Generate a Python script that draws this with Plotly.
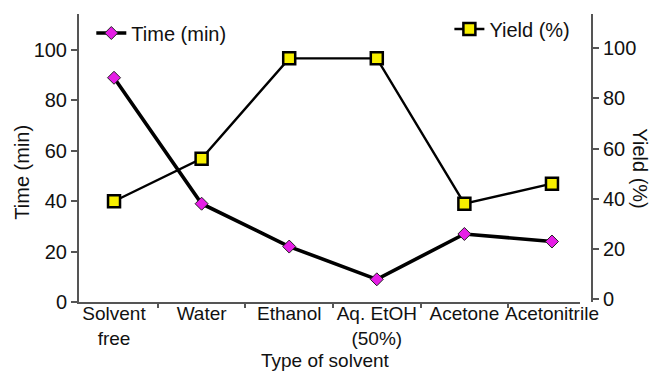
import plotly.graph_objects as go

# Reaction conditions screened
solvents = ["Solvent<br>free", "Water", "Ethanol", "Aq. EtOH<br>(50%)", "Acetone", "Acetonitrile"]
time_min = [89, 39, 22, 9, 27, 24]
yield_pct = [39, 56, 96, 96, 38, 46]

y_ticks = [0, 20, 40, 60, 80, 100]

FONT = "Liberation Sans, Arial, Helvetica, sans-serif"
AXIS_GREY = "#555555"
FS = 20

fig = go.Figure()

fig.add_trace(go.Scatter(
    x=solvents, y=time_min, name="Time (min)", mode="lines+markers",
    line=dict(color="black", width=3.6),
    marker=dict(symbol="diamond", size=10, color="#e61ee6",
                line=dict(color="#222222", width=1)),
    legend="legend", showlegend=True,
))

fig.add_trace(go.Scatter(
    x=solvents, y=yield_pct, name="Yield (%)", mode="lines+markers",
    yaxis="y2",
    line=dict(color="black", width=2.4),
    marker=dict(symbol="square", size=12, color="#f7ef00",
                line=dict(color="black", width=2.5)),
    legend="legend2", showlegend=True,
))

fig.update_layout(
    width=650, height=371,
    margin=dict(l=79, r=58, t=14, b=68.5, autoexpand=False),
    paper_bgcolor="white", plot_bgcolor="white",
    showlegend=True,
    font=dict(family=FONT, size=FS, color="#111111"),
    xaxis=dict(
        type="category",
        domain=[0, 501 / 513],
        range=[-0.40, 5.32],
        showline=True, linecolor=AXIS_GREY, linewidth=2,
        ticks="outside", tickson="boundaries", ticklen=4,
        tickcolor=AXIS_GREY, tickwidth=1.5,
        showgrid=False, zeroline=False,
        tickangle=0, automargin=False,
        ticklabelstandoff=-7,
        tickfont=dict(size=19),
    ),
    yaxis=dict(
        range=[0, 114.3],
        tickvals=y_ticks,
        showline=True, linecolor=AXIS_GREY, linewidth=2,
        ticks="outside", ticklen=6, tickcolor=AXIS_GREY, tickwidth=1.5,
        showgrid=False, zeroline=False, automargin=False,
        tickfont=dict(size=FS),
    ),
    yaxis2=dict(
        overlaying="y", side="right", anchor="free", position=1.0,
        range=[-1.2, 113.7],
        tickvals=y_ticks,
        showline=True, linecolor=AXIS_GREY, linewidth=2,
        ticks="outside", ticklen=6, tickcolor=AXIS_GREY, tickwidth=1.5,
        showgrid=False, zeroline=False, automargin=False,
        tickfont=dict(size=FS),
    ),
    legend=dict(
        x=0.024, y=0.934, xanchor="left", yanchor="middle",
        bgcolor="rgba(0,0,0,0)", font=dict(size=FS),
    ),
    legend2=dict(
        x=0.722, y=0.948, xanchor="left", yanchor="middle",
        bgcolor="rgba(0,0,0,0)", font=dict(size=FS),
    ),
    annotations=[
        dict(text="Type of solvent", xref="paper", yref="paper",
             x=(325 - 79) / 513, y=(302.5 - 372.5) / 288.5,
             showarrow=False, xanchor="center", yanchor="bottom",
             borderpad=0, font=dict(size=19)),
        dict(text="Time (min)", xref="paper", yref="paper",
             x=(22 - 79) / 513, y=0.449, textangle=-90,
             showarrow=False, xanchor="center", yanchor="middle"),
        dict(text="Yield (%)", xref="paper", yref="paper",
             x=(640 - 79) / 513, y=0.464, textangle=90,
             showarrow=False, xanchor="center", yanchor="middle"),
    ],
)

fig.write_html("out.html")
